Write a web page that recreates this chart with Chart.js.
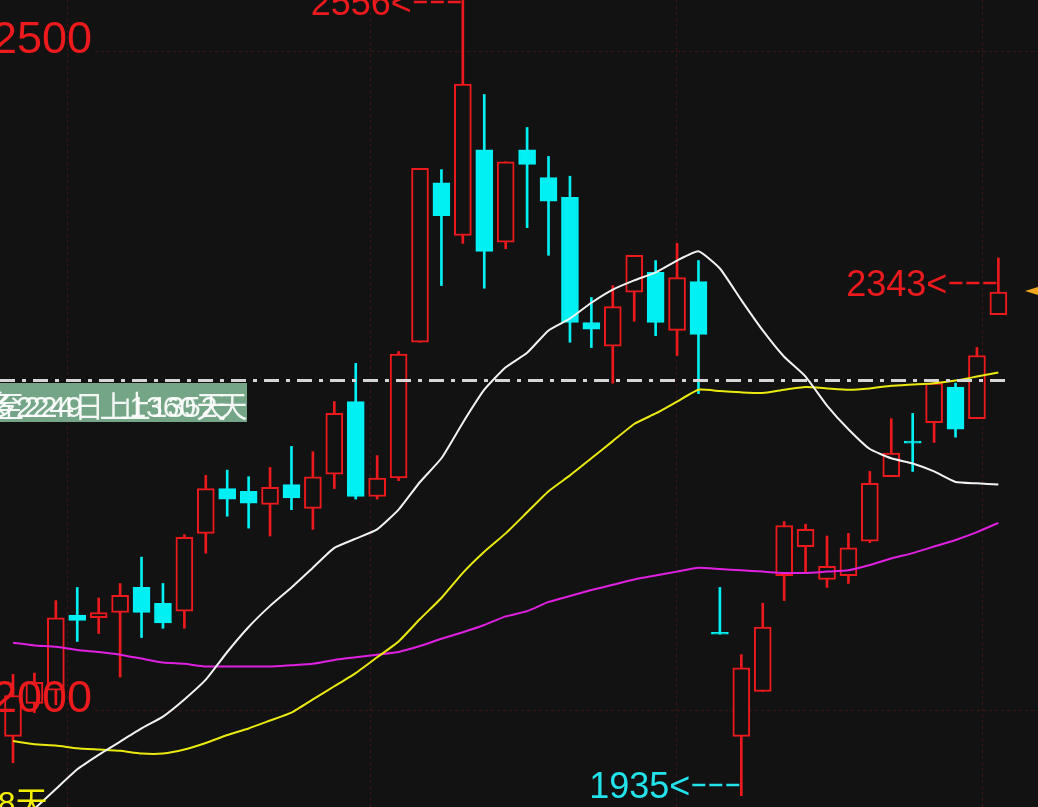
<!DOCTYPE html>
<html>
<head>
<meta charset="utf-8">
<script src="https://cdn.jsdelivr.net/npm/chart.js@4.4.0/dist/chart.umd.min.js"></script>
<style>
html, body { margin: 0; padding: 0; background: #131213; overflow: hidden; }
#wrap { width: 1038px; height: 807px; }
</style>
</head>
<body>
<div id="wrap"><canvas id="kline" width="1038" height="807"></canvas></div>
<script>
// velas: apertura, cierre, maximo, minimo
var aperturas = [1980, 2005, 2015, 2072, 2070, 2074, 2093, 2081, 2075, 2134, 2168, 2166, 2156, 2171, 2153, 2179, 2234, 2162, 2176, 2279, 2400, 2360, 2425, 2355, 2425, 2404, 2389, 2294, 2276, 2317, 2332, 2288, 2325, 2058.5, 1980, 2014, 2102, 2124, 2099, 2102, 2128, 2177, 2203.5, 2218, 2245, 2221, 2300];
var cierres = [2011, 2021, 2070, 2068, 2074, 2087, 2074, 2066, 2131, 2168, 2160, 2157, 2169, 2161, 2177, 2225, 2162, 2176, 2270, 2411, 2375, 2475, 2348, 2416, 2414, 2386, 2294, 2289, 2306, 2345, 2294, 2328, 2285, 2057.5, 2032, 2063, 2140, 2137, 2109, 2123, 2172, 2195, 2202.5, 2248, 2213, 2269, 2317];
var maximos = [2027, 2028, 2083, 2093, 2085, 2096, 2116, 2096, 2133, 2178, 2182, 2177, 2184, 2200, 2196, 2234, 2263, 2193, 2272, 2411, 2410, 2556, 2467, 2416, 2442, 2420, 2405, 2313, 2322, 2345, 2341, 2354, 2341, 2093, 2042, 2081, 2143, 2141, 2132, 2134, 2181, 2221, 2225, 2249, 2248, 2275, 2343];
var minimos = [1960, 1998, 2004, 2052, 2058, 2025, 2055, 2062, 2062, 2119, 2147, 2138, 2132, 2152, 2137, 2168, 2160, 2160, 2174, 2279, 2322, 2354, 2320, 2350, 2366, 2345, 2279, 2275, 2248, 2295, 2284, 2269, 2240, 2057.5, 1935, 2014, 2083, 2104, 2093, 2096, 2127, 2177, 2181, 2203, 2207, 2221, 2300];

// medias moviles
var mediaBlanca = [1910, 1925, 1940, 1955, 1966, 1976, 1986, 1995, 2008, 2023, 2044, 2063, 2079, 2093, 2108, 2123, 2130, 2137, 2152, 2173, 2191, 2218, 2243, 2260, 2271, 2288, 2297, 2309, 2319, 2326, 2332, 2341, 2348, 2335, 2311, 2288, 2268, 2253, 2231, 2213, 2198, 2191, 2187, 2181, 2173, 2172, 2171];
var mediaAmarilla = [1976.5, 1974, 1973, 1971, 1970, 1969, 1967, 1967, 1970, 1975, 1981, 1986, 1992, 1998, 2008, 2018, 2028, 2040, 2052, 2069, 2085, 2104, 2120, 2134, 2150, 2166, 2178, 2191, 2204, 2217, 2225, 2234, 2243, 2242, 2241, 2240.5, 2243, 2245, 2244, 2243, 2244, 2246, 2247, 2248, 2250, 2253, 2256];
var mediaMagenta = [2051, 2049, 2048, 2045.5, 2044, 2042, 2039, 2036, 2035, 2033, 2033, 2033, 2033, 2034, 2035, 2038, 2040, 2042, 2044, 2048.5, 2054, 2059, 2064.5, 2071, 2075, 2082, 2086.5, 2091, 2095, 2099, 2102, 2105, 2108, 2107, 2106, 2105, 2104, 2104, 2105, 2106, 2110, 2115, 2119, 2124, 2129, 2135, 2142];

var etiquetasY = [2000, 2500];
var nivelLinea = 2250;
var rejillaX = [2.52, 16.67, 30.95, 45.24];

var ROJO = "#ec1a1c";
var CIAN = "#00f0f4";
var FONDO = "#131213";

var cuerpos = [];
var mechas = [];
var coloresCuerpo = [];
var coloresBorde = [];
var coloresMecha = [];
aperturas.forEach(function (a, i) {
  var sube = cierres[i] >= a;
  cuerpos.push({ x: i, y: [a, cierres[i]] });
  mechas.push({ x: i, y: [minimos[i], maximos[i]] });
  coloresCuerpo.push(sube ? FONDO : CIAN);
  coloresBorde.push(sube ? ROJO : CIAN);
  coloresMecha.push(sube ? ROJO : CIAN);
});

function serie(valores) {
  return valores.map(function (v, i) { return { x: i, y: v }; });
}

var iMax = maximos.indexOf(Math.max.apply(null, maximos));
var iMin = minimos.indexOf(Math.min.apply(null, minimos));
var iUlt = maximos.length - 1;

var adornos = {
  id: "adornos",
  beforeDraw: function (chart) {
    var c = chart.ctx;
    var xs = chart.scales.x, ys = chart.scales.y;
    c.save();
    c.fillStyle = FONDO;
    c.fillRect(0, 0, chart.width, chart.height);
    c.strokeStyle = "#3e1515";
    c.lineWidth = 1;
    c.setLineDash([3, 3]);
    rejillaX.forEach(function (v) {
      var px = Math.round(xs.getPixelForValue(v)) + 0.5;
      c.beginPath(); c.moveTo(px, 0); c.lineTo(px, chart.height); c.stroke();
    });
    etiquetasY.forEach(function (v) {
      var py = Math.round(ys.getPixelForValue(v)) + 0.5;
      c.beginPath(); c.moveTo(95, py); c.lineTo(chart.width, py); c.stroke();
    });
    c.restore();
  },
  afterDatasetsDraw: function (chart) {
    var c = chart.ctx;
    var xs = chart.scales.x, ys = chart.scales.y;
    c.save();
    // linea de nivel
    var yl = ys.getPixelForValue(nivelLinea);
    c.strokeStyle = "#d6d6d6";
    c.lineWidth = 3;
    c.setLineDash([15, 7, 4, 7]);
    c.beginPath(); c.moveTo(0, yl); c.lineTo(1007, yl); c.stroke();
    c.setLineDash([]);

    // etiquetas del eje
    c.fillStyle = ROJO;
    c.font = "45px 'Liberation Sans', Arial, sans-serif";
    c.textAlign = "left";
    c.textBaseline = "alphabetic";
    etiquetasY.forEach(function (v) {
      c.fillText(String(v), -8, ys.getPixelForValue(v) + 2);
    });

    // recuadro verde
    c.fillStyle = "#73a586";
    c.fillRect(0, 383, 247, 39);
    c.fillStyle = "rgba(255,255,255,0.92)";
    c.font = "30px 'Liberation Sans', 'Noto Sans CJK SC', sans-serif";
    c.fillText("多2249  上1360天", -14, 417);
    c.fillText("至224日  止1352天", -6, 417);

    // marcas de maximo y minimo
    function marca(i, texto, color, yDash) {
      var px = xs.getPixelForValue(i);
      c.font = "36px 'Liberation Sans', Arial, sans-serif";
      c.fillStyle = color;
      c.textAlign = "right";
      c.fillText(texto + "<", px - 51, yDash + 13);
      c.strokeStyle = color;
      c.lineWidth = 2.5;
      c.setLineDash([13, 4]);
      c.beginPath(); c.moveTo(px - 49, yDash); c.lineTo(px, yDash); c.stroke();
      c.setLineDash([]);
    }
    marca(iMax, String(maximos[iMax]), ROJO, 2);
    marca(iUlt, String(maximos[iUlt]), ROJO, 283);
    marca(iMin, String(minimos[iMin]), "#22e2ea", 785);

    // flecha naranja
    c.fillStyle = "#f2a81e";
    c.beginPath(); c.moveTo(1025, 291); c.lineTo(1038, 287); c.lineTo(1038, 295); c.closePath(); c.fill();

    // texto amarillo inferior
    c.textAlign = "left";
    c.fillStyle = "#f2f000";
    c.font = "32px 'Liberation Sans', 'Noto Sans CJK SC', sans-serif";
    c.fillText("18天", -20, 814);
    c.restore();
  }
};

var ctx = document.getElementById("kline");
var grafico = new Chart(ctx, {
  type: "bar",
  data: {
    datasets: [
      { type: "line", data: serie(mediaBlanca), borderColor: "#f2f2f2", borderWidth: 2, pointRadius: 0, tension: 0.15, order: 0 },
      { type: "line", data: serie(mediaAmarilla), borderColor: "#eaea10", borderWidth: 2, pointRadius: 0, tension: 0.15, order: 1 },
      { type: "line", data: serie(mediaMagenta), borderColor: "#e020e0", borderWidth: 2, pointRadius: 0, tension: 0.15, order: 2 },
      { data: cuerpos, backgroundColor: coloresCuerpo, borderColor: coloresBorde, borderWidth: 2, borderSkipped: false, barThickness: 17, minBarLength: 2, grouped: false, order: 3 },
      { data: mechas, backgroundColor: coloresMecha, borderWidth: 0, barThickness: 2, grouped: false, order: 4 }
    ]
  },
  options: {
    responsive: false,
    animation: false,
    layout: { padding: 0 },
    plugins: { legend: { display: false }, tooltip: { enabled: false } },
    scales: {
      x: { type: "linear", display: false, min: -0.607, max: 47.85, offset: false },
      y: { type: "linear", display: false, min: 1926.4, max: 2538.7 }
    }
  },
  plugins: [adornos]
});
</script>
</body>
</html>
